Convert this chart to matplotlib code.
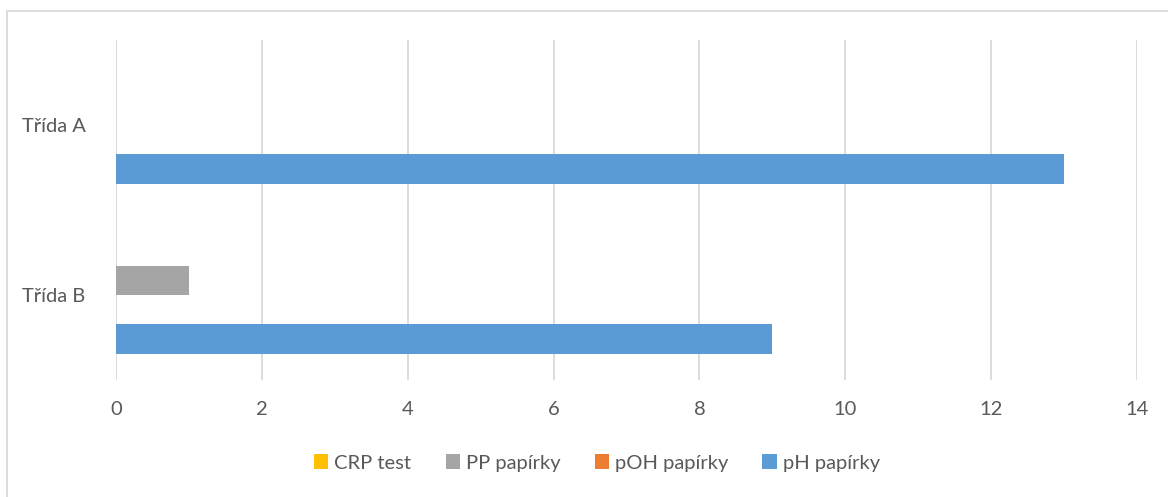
import matplotlib
matplotlib.use("Agg")
import matplotlib.pyplot as plt
import numpy as np
from matplotlib.patches import Rectangle

categories = ["Třída A", "Třída B"]
series_names = ["CRP test", "PP papírky", "pOH papírky", "pH papírky"]
crp_test = [0, 0]
pp_papirky = [0, 1]
poh_papirky = [0, 0]
ph_papirky = [13, 9]
series_values = [crp_test, pp_papirky, poh_papirky, ph_papirky]
colors = ["#FFC000", "#A5A5A5", "#ED7D31", "#5B9BD5"]
x_ticks = [0, 2, 4, 6, 8, 10, 12, 14]

plt.rcParams['font.family'] = ['Lato', 'DejaVu Sans']
text_color = "#595959"
fs = 14.5

W, H = 1168, 497
fig = plt.figure(figsize=(W / 100, H / 100), dpi=100)
ax = fig.add_axes([116 / W, 1 - 380 / H, (1137 - 116) / W, (380 - 40) / H])

bar_h = 117 / 170 / 4
y_base = np.arange(len(categories))
handles = []
for i, (name, vals, col) in enumerate(zip(series_names, series_values, colors)):
    offs = (i - 1.5) * bar_h
    b = ax.barh(y_base + offs, vals, height=bar_h, color=col, label=name, zorder=3)
    handles.append(b)

ax.set_ylim(1.5, -0.5)
ax.set_xlim(0, 14)
ax.set_xticks(x_ticks)
ax.set_yticks(y_base)
ax.set_yticklabels(categories)
ax.grid(axis='x', color='#D9D9D9', linewidth=1.3, zorder=0)
for s in ax.spines.values():
    s.set_visible(False)
ax.tick_params(axis='both', length=0, labelsize=fs, colors=text_color)
ax.tick_params(axis='x', pad=15)
ax.tick_params(axis='y', pad=22)

fig.legend(handles=handles, labels=series_names, loc='center', bbox_to_anchor=(597 / W, 1 - 463 / H),
           ncol=4, frameon=False, fontsize=fs, labelcolor=text_color,
           handlelength=0.7, handleheight=0.7, handletextpad=0.3, columnspacing=1.7)

fig.patches.append(Rectangle((7 / W, -0.1), 1.2, 1 - 11 / H + 0.1, transform=fig.transFigure,
                             fill=False, edgecolor='#D9D9D9', linewidth=1.3))

fig.savefig("out.png", dpi=100)
